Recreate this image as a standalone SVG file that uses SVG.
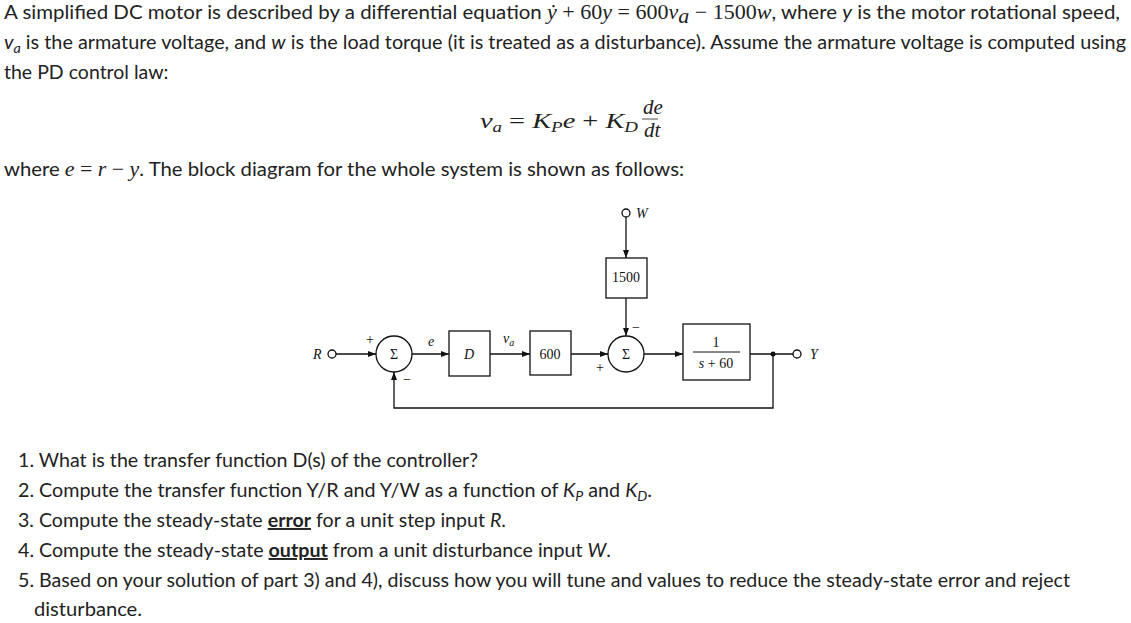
<svg xmlns="http://www.w3.org/2000/svg" width="1131" height="623" viewBox="0 0 1131 623">
<style>
.t{font-family:Lato,"Open Sans","Liberation Sans",sans-serif;font-size:19.5px;fill:#222}
.m{font-family:"Liberation Serif","DejaVu Serif",serif;font-style:italic;font-size:21px;fill:#222}
.mn{font-family:"Liberation Serif","DejaVu Serif",serif;font-style:normal;font-size:21px;fill:#222}
.d{font-family:"Liberation Serif","Times New Roman",serif;font-size:14px;fill:#111}
.di{font-family:"Liberation Serif","Times New Roman",serif;font-style:italic;font-size:14px;fill:#111}
.b{fill:#fff;stroke:#111;stroke-width:1.3}
.l{fill:none;stroke:#111;stroke-width:1.3}
</style>
<defs><marker id="a" markerWidth="8" markerHeight="6" refX="8" refY="3" orient="auto" markerUnits="userSpaceOnUse"><path d="M0,0L8,3L0,6z" fill="#111"/></marker></defs>
<rect width="1131" height="623" fill="#fff"/>
<text class="t" x="4" y="19" textLength="1116" lengthAdjust="spacingAndGlyphs">A simplified DC motor is described by a differential equation <tspan class="m">ẏ</tspan><tspan class="mn"> + 60</tspan><tspan class="m">y</tspan><tspan class="mn"> = 600</tspan><tspan class="m">v</tspan><tspan class="m" font-size="14" dy="4">a</tspan><tspan class="mn" dy="-4">  − 1500</tspan><tspan class="m">w</tspan>, where <tspan font-style="italic">y</tspan> is the motor rotational speed,</text>
<text class="t" x="4" y="49" textLength="1122" lengthAdjust="spacingAndGlyphs"><tspan font-style="italic">v</tspan><tspan font-style="italic" font-size="14" dy="4">a</tspan><tspan dy="-4"> is the armature voltage, and </tspan><tspan font-style="italic">w</tspan> is the load torque (it is treated as a disturbance).  Assume the armature voltage is computed using</text>
<text class="t" x="4" y="79">the PD control law:</text>
<text class="m" x="480" y="128" textLength="158" lengthAdjust="spacingAndGlyphs">v<tspan font-size="14" dy="4">a</tspan><tspan class="mn" dy="-4"> = </tspan>K<tspan font-size="14" dy="4">P</tspan><tspan dy="-4">e</tspan><tspan class="mn"> + </tspan>K<tspan font-size="14" dy="4">D</tspan></text>
<text class="m" x="643" y="114" font-size="12">de</text>
<line x1="642" y1="119" x2="658" y2="119" stroke="#222" stroke-width="0.8"/>
<text class="m" x="644" y="137" font-size="12">dt</text>
<text class="t" x="4" y="176" textLength="680" lengthAdjust="spacingAndGlyphs">where  <tspan class="m">e</tspan><tspan class="mn"> = </tspan><tspan class="m">r</tspan><tspan class="mn"> − </tspan><tspan class="m">y</tspan>. The block diagram for the whole system is shown as follows:</text>

<g id="connectors">
<line class="l" x1="336" y1="354" x2="376" y2="354" marker-end="url(#a)"/>
<line class="l" x1="412" y1="354" x2="449" y2="354" marker-end="url(#a)"/>
<line class="l" x1="490" y1="354" x2="530" y2="354" marker-end="url(#a)"/>
<line class="l" x1="571" y1="354" x2="608" y2="354" marker-end="url(#a)"/>
<line class="l" x1="626" y1="217" x2="626" y2="258" marker-end="url(#a)"/>
<line class="l" x1="626" y1="298" x2="626" y2="336" marker-end="url(#a)"/>
<line class="l" x1="644" y1="354" x2="683" y2="354" marker-end="url(#a)"/>
<line class="l" x1="750" y1="354" x2="793" y2="354"/>
<polyline class="l" points="773,354 773,408 394,408 394,372" marker-end="url(#a)"/>
<circle cx="773" cy="354" r="2.5" fill="#111"/>
</g>
<g id="R"><circle class="b" cx="332" cy="354" r="4"/><text class="di" x="313" y="359">R</text></g>
<g id="sum1"><circle class="b" cx="394" cy="354" r="18"/><text class="d" x="394" y="359" text-anchor="middle">Σ</text><text class="d" x="366" y="344" font-size="12">+</text><text class="d" x="403" y="384" font-size="12">−</text><text class="di" x="428" y="346" font-size="12">e</text></g>
<g id="D"><rect class="b" x="449" y="331" width="41" height="45"/><text class="di" x="469" y="359" text-anchor="middle">D</text><text class="di" x="503" y="343">v<tspan font-size="10" dy="3">a</tspan></text></g>
<g id="g600"><rect class="b" x="530" y="331" width="41" height="44"/><text class="d" x="550" y="359" text-anchor="middle">600</text></g>
<g id="W"><circle class="b" cx="626" cy="213" r="4"/><text class="di" x="636" y="218">W</text></g>
<g id="g1500"><rect class="b" x="606" y="258" width="41" height="40"/><text class="d" x="626" y="282" text-anchor="middle">1500</text></g>
<g id="sum2"><circle class="b" cx="626" cy="354" r="18"/><text class="d" x="626" y="359" text-anchor="middle">Σ</text><text class="d" x="632" y="332" font-size="12">−</text><text class="d" x="596" y="372" font-size="12">+</text></g>
<g id="plant"><rect class="b" x="683" y="324" width="67" height="56"/><text class="d" x="716" y="347" text-anchor="middle">1</text><line x1="693" y1="352" x2="740" y2="352" stroke="#111"/><text class="d" x="716" y="368" text-anchor="middle"><tspan font-style="italic">s</tspan> + 60</text></g>
<g id="Y"><circle class="b" cx="797" cy="354" r="4"/><text class="di" x="810" y="359">Y</text></g>

<text class="t" x="18" y="467" textLength="460" lengthAdjust="spacingAndGlyphs">1. What is the transfer function D(s) of the controller?</text>
<text class="t" x="18" y="497" textLength="634" lengthAdjust="spacingAndGlyphs">2. Compute the transfer function Y/R and Y/W as a function of <tspan font-style="italic">K</tspan><tspan font-style="italic" font-size="14" dy="4">P</tspan><tspan dy="-4"> and </tspan><tspan font-style="italic">K</tspan><tspan font-style="italic" font-size="14" dy="4">D</tspan><tspan dy="-4">.</tspan></text>
<text class="t" x="18" y="527" textLength="488" lengthAdjust="spacingAndGlyphs">3. Compute the steady-state <tspan font-weight="bold" text-decoration="underline">error</tspan> for a unit step input <tspan font-style="italic">R</tspan>.</text>
<text class="t" x="18" y="557" textLength="593" lengthAdjust="spacingAndGlyphs">4. Compute the steady-state <tspan font-weight="bold" text-decoration="underline">output</tspan> from a unit disturbance input <tspan font-style="italic">W</tspan>.</text>
<text class="t" x="18" y="587" textLength="1052" lengthAdjust="spacingAndGlyphs">5. Based on your solution of part 3) and 4), discuss how you will tune and values to reduce the steady-state error and reject</text>
<text class="t" x="34" y="616" textLength="108" lengthAdjust="spacingAndGlyphs">disturbance.</text>
</svg>
